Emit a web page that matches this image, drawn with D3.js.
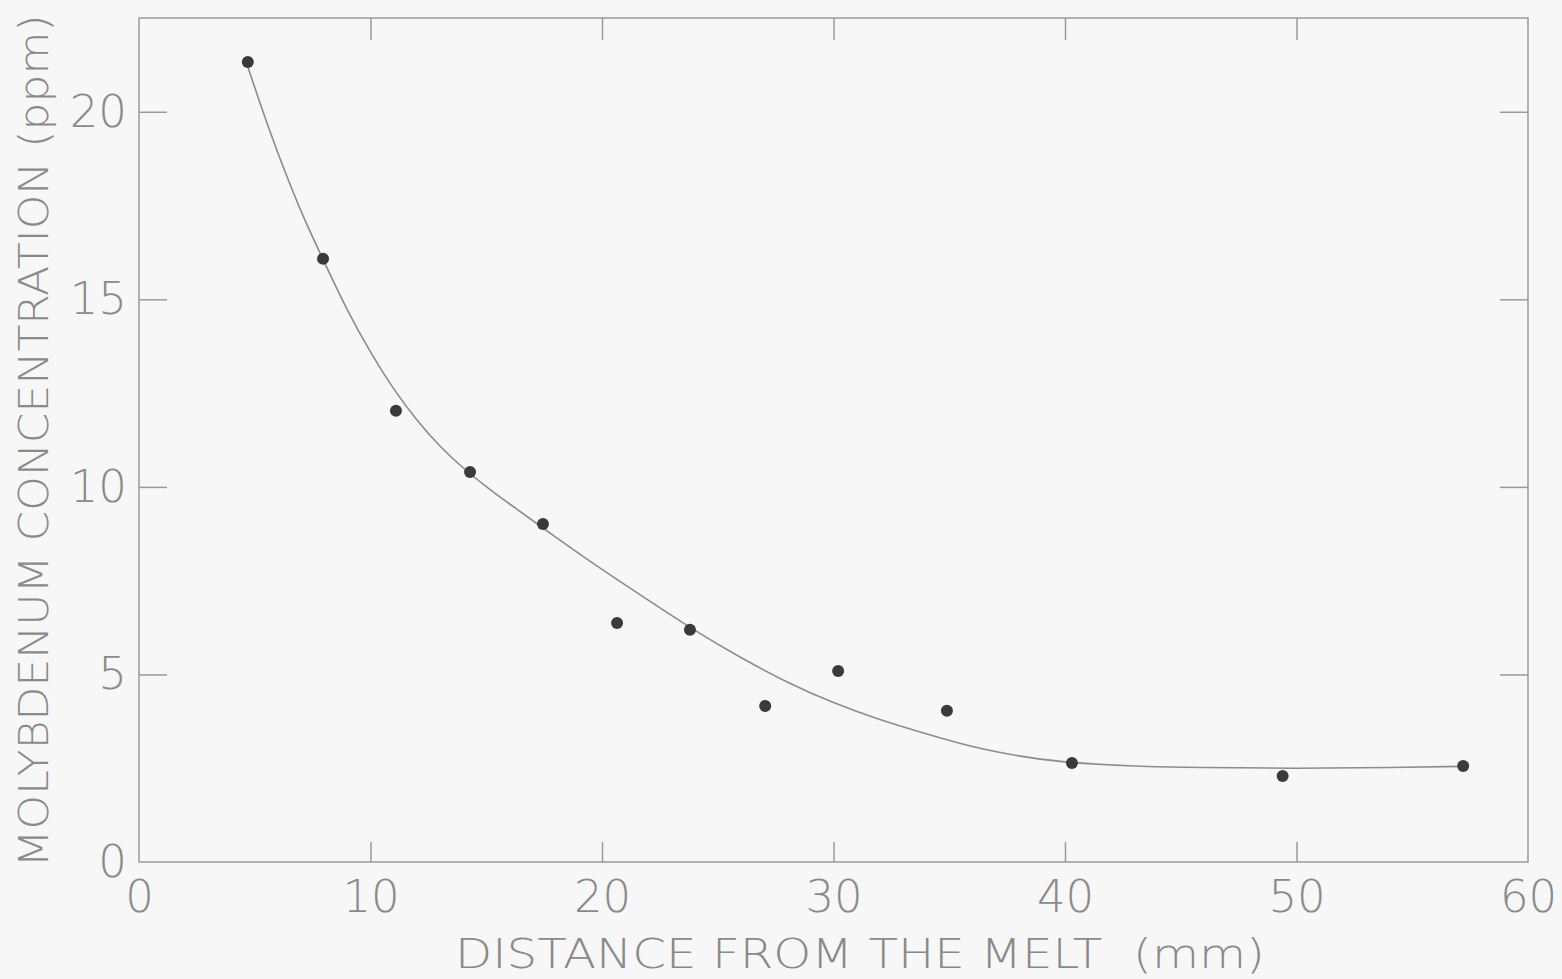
<!DOCTYPE html>
<html>
<head>
<meta charset="utf-8">
<script src="https://cdn.jsdelivr.net/npm/d3@7"></script>
<style>
  html, body { margin: 0; padding: 0; background: #f7f7f7; }
  svg { display: block; }
  .lbl { font-family: "DejaVu Sans", sans-serif; font-weight: 200; fill: #8a8a8a; white-space: pre; }
</style>
</head>
<body>
<div id="chart"></div>
<script>
// Medições (distância em mm, concentração em ppm)
const distance = [4.7, 7.95, 11.1, 14.3, 17.45, 20.65, 23.8, 27.05, 30.2, 34.9, 40.3, 49.4, 57.2];
const concentration = [21.33, 16.08, 12.03, 10.4, 9.01, 6.37, 6.19, 4.16, 5.09, 4.03, 2.64, 2.29, 2.56];

// Curva desenhada à mão
const curveX = [4.7, 5.5, 6.5, 7.25, 8, 9, 10, 11, 12, 13, 14, 15, 16, 18, 20, 22, 24, 26, 28, 30, 32, 34, 36, 38, 40, 43, 46, 50, 54, 57.2];
const curveY = [21.2, 19.75, 18.1, 17.0, 16.0, 14.72, 13.6, 12.62, 11.79, 11.09, 10.51, 10.01, 9.55, 8.66, 7.8, 6.98, 6.18, 5.45, 4.8, 4.25, 3.8, 3.42, 3.08, 2.83, 2.67, 2.56, 2.52, 2.5, 2.52, 2.55];

const xTicks = [0, 10, 20, 30, 40, 50, 60];
const yTicks = [0, 5, 10, 15, 20];

const W = 1562, H = 979;
const margin = { top: 18, right: 34, bottom: 117, left: 139 };
const width = W - margin.left - margin.right;
const height = H - margin.top - margin.bottom;

const svg = d3.select('#chart').append('svg')
  .attr('width', W).attr('height', H);

const g = svg.append('g')
  .attr('transform', `translate(${margin.left},${margin.top})`);

const x = d3.scaleLinear().domain([0, 60]).range([0, width]);
const y = d3.scaleLinear().domain([0, 22.5]).range([height, 0]);

const axisColor = '#9a9a9a';

// Moldura
g.append('rect')
  .attr('width', width).attr('height', height)
  .attr('fill', 'none').attr('stroke', axisColor).attr('stroke-width', 1.5);

// Eixos (ticks para dentro)
function styleAxis(sel) {
  sel.select('.domain').remove();
  sel.selectAll('.tick line').attr('stroke', axisColor).attr('stroke-width', 1.5);
  sel.selectAll('.tick text').attr('class', 'lbl').attr('font-size', 45).style('fill', '#8a8a8a');
}

g.append('g')
  .attr('transform', `translate(0,${height})`)
  .call(d3.axisBottom(x).tickValues(xTicks).tickSizeInner(-20).tickSizeOuter(0).tickPadding(18).tickFormat(d3.format('d')))
  .call(styleAxis)
  .call(s => s.selectAll('.tick').filter(d => d === 0 || d === 60).select('line').remove());

g.append('g')
  .call(d3.axisLeft(y).tickValues(yTicks).tickSizeInner(-28).tickSizeOuter(0).tickPadding(12).tickFormat(d3.format('d')))
  .call(styleAxis)
  .call(s => s.selectAll('.tick').filter(d => d === 0).select('line').remove());

g.append('g')
  .call(d3.axisTop(x).tickValues(xTicks.filter(d => d > 0 && d < 60)).tickSizeInner(-22).tickSizeOuter(0).tickFormat(''))
  .call(styleAxis);

g.append('g')
  .attr('transform', `translate(${width},0)`)
  .call(d3.axisRight(y).tickValues(yTicks.filter(d => d > 0)).tickSizeInner(-28).tickSizeOuter(0).tickFormat(''))
  .call(styleAxis);

// Curva
const curveData = curveX.map((d, i) => ({ x: d, y: curveY[i] }));
const line = d3.line()
  .x(d => x(d.x))
  .y(d => y(d.y))
  .curve(d3.curveNatural);

g.append('path')
  .datum(curveData)
  .attr('d', line)
  .attr('fill', 'none')
  .attr('stroke', '#8c8c8c')
  .attr('stroke-width', 1.6);

// Pontos
const points = distance.map((d, i) => ({ x: d, y: concentration[i] }));
g.selectAll('.dot')
  .data(points)
  .enter()
  .append('circle')
  .attr('class', 'dot')
  .attr('cx', d => x(d.x))
  .attr('cy', d => y(d.y))
  .attr('r', 6)
  .attr('fill', '#3a3a3a');

// Labels dos eixos
svg.append('text')
  .attr('class', 'lbl')
  .attr('x', 860).attr('y', 968)
  .attr('font-size', 40)
  .attr('text-anchor', 'middle')
  .attr('textLength', 810)
  .attr('lengthAdjust', 'spacingAndGlyphs')
  .text('DISTANCE FROM THE MELT  (mm)');

svg.append('text')
  .attr('class', 'lbl')
  .attr('transform', 'translate(48,441) rotate(-90)')
  .attr('font-size', 41)
  .attr('text-anchor', 'middle')
  .attr('textLength', 853)
  .attr('lengthAdjust', 'spacingAndGlyphs')
  .text('MOLYBDENUM CONCENTRATION (ppm)');
</script>
</body>
</html>
